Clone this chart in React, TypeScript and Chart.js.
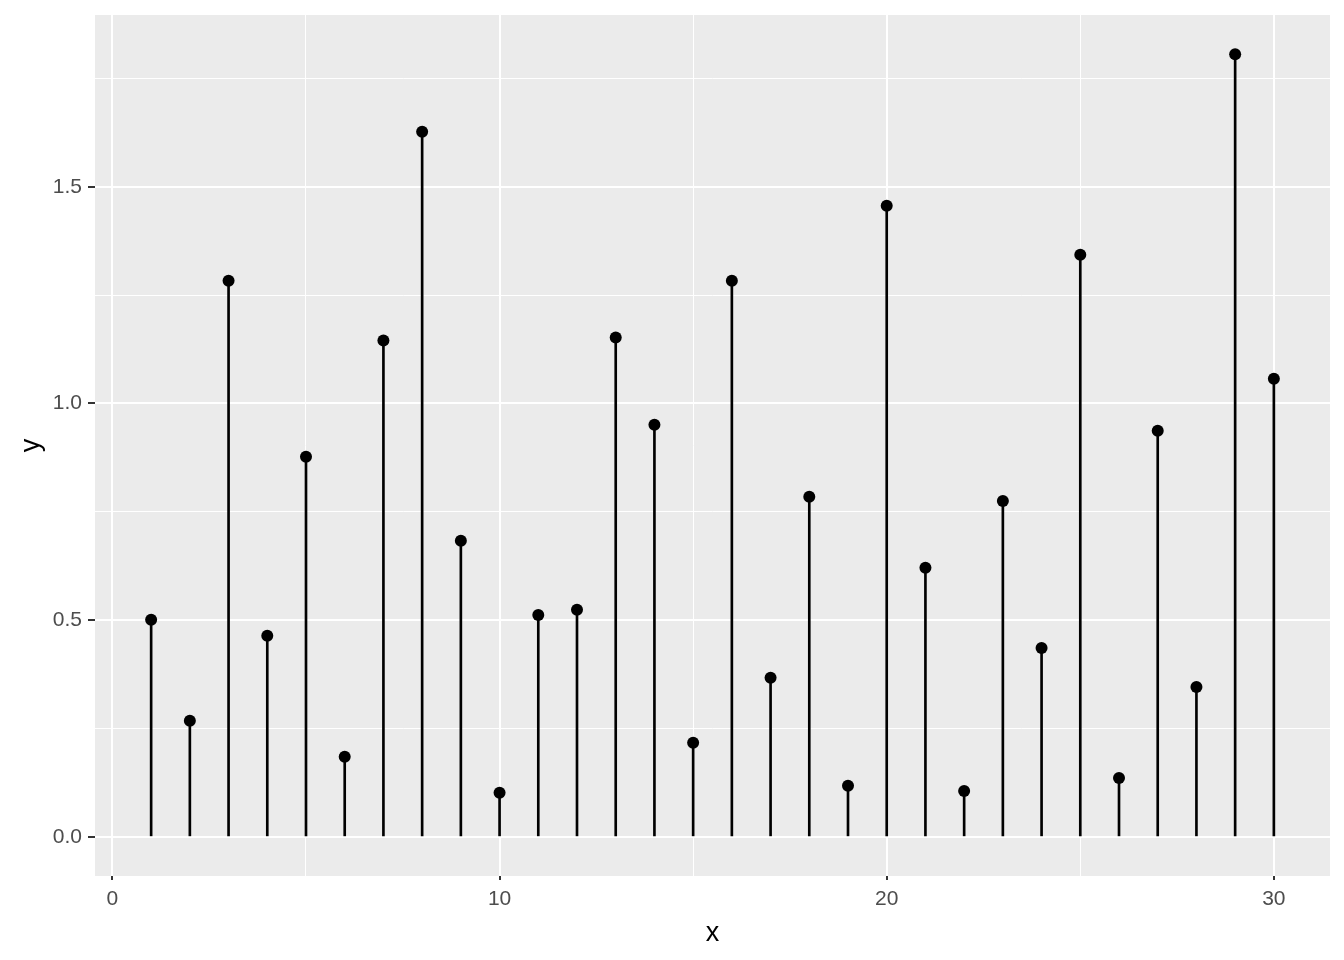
import React, { useEffect, useRef } from "react";
import { Chart, registerables } from "chart.js";

Chart.register(...registerables);

const xs: number[] = [1,2,3,4,5,6,7,8,9,10,11,12,13,14,15,16,17,18,19,20,21,22,23,24,25,26,27,28,29,30];
const ys: number[] = [0.501,0.268,1.283,0.464,0.877,0.185,1.145,1.627,0.683,0.102,0.512,0.524,1.152,0.951,0.217,1.283,0.367,0.785,0.118,1.456,0.621,0.106,0.775,0.436,1.343,0.136,0.937,0.346,1.806,1.057];
const xMajorTicks: number[] = [0, 10, 20, 30];
const yMajorTicks: number[] = [0, 0.5, 1, 1.5];

const isMajor = (v: number, majors: number[]) => majors.some((m) => Math.abs(m - v) < 1e-6);

const bgPlugin = {
  id: "panelBg",
  beforeDraw(chart: any) {
    const { ctx, chartArea } = chart;
    ctx.save();
    ctx.fillStyle = "#EBEBEB";
    ctx.fillRect(chartArea.left, chartArea.top, chartArea.right - chartArea.left, chartArea.bottom - chartArea.top);
    ctx.restore();
  },
};

export default function App() {
  const ref = useRef<HTMLCanvasElement | null>(null);
  useEffect(() => {
    if (!ref.current) return;
    const pts = xs.map((x, i) => ({ x, y: ys[i] }));
    const xMin = 1 - 0.05 * 29;
    const xMax = 30 + 0.05 * 29;
    const yMax = Math.max(...ys);
    const yMin = 0 - 0.05 * yMax;
    const yTop = yMax + 0.05 * yMax;
    const font = "Liberation Sans, Arial, Helvetica, sans-serif";
    const chart = new Chart(ref.current, {
      type: "scatter",
      data: {
        datasets: [
          {
            type: "bar" as any,
            data: pts,
            backgroundColor: "#000000",
            borderWidth: 0,
            barThickness: 2,
            order: 2,
          } as any,
          {
            type: "scatter",
            data: pts,
            backgroundColor: "#000000",
            borderColor: "#000000",
            pointRadius: 6,
            borderWidth: 0,
            order: 1,
          },
        ],
      },
      plugins: [bgPlugin],
      options: {
        responsive: false,
        animation: false,
        layout: { padding: { left: 0, top: 15, right: 14, bottom: 0 } },
        plugins: { legend: { display: false }, tooltip: { enabled: false } },
        scales: {
          x: {
            type: "linear",
            min: xMin,
            max: xMax,
            offset: false,
            border: { display: false },
            grid: {
              offset: false,
              color: "#FFFFFF",
              lineWidth: (c: any) => (isMajor(c.tick?.value, xMajorTicks) ? 2 : 1),
              tickColor: (c: any) => (isMajor(c.tick?.value, xMajorTicks) ? "#333333" : "rgba(0,0,0,0)"),
              tickWidth: 2,
              tickLength: 4,
              drawTicks: true,
            },
            ticks: {
              stepSize: 5,
              includeBounds: false,
              autoSkip: false,
              maxRotation: 0,
              padding: 7,
              color: "#4D4D4D",
              font: { family: font, size: 21 },
              callback: (v: any) => (isMajor(Number(v), xMajorTicks) ? String(v) : ""),
            },
            title: {
              display: true,
              text: "x",
              color: "#000000",
              font: { family: font, size: 27 },
              padding: { top: 2, bottom: 10 },
            },
            afterFit: (s: any) => {
              s.height = 84;
              s.paddingLeft = 0;
              s.paddingRight = 0;
            },
          },
          y: {
            type: "linear",
            min: yMin,
            max: yTop,
            border: { display: false },
            grid: {
              color: "#FFFFFF",
              lineWidth: (c: any) => (isMajor(c.tick?.value, yMajorTicks) ? 2 : 1),
              tickColor: (c: any) => (isMajor(c.tick?.value, yMajorTicks) ? "#333333" : "rgba(0,0,0,0)"),
              tickWidth: 2,
              tickLength: 7,
            },
            ticks: {
              stepSize: 0.25,
              includeBounds: false,
              autoSkip: false,
              padding: 6,
              color: "#4D4D4D",
              font: { family: font, size: 21 },
              callback: (v: any) => (isMajor(Number(v), yMajorTicks) ? Number(v).toFixed(1) : ""),
            },
            title: {
              display: true,
              text: "y",
              color: "#000000",
              font: { family: font, size: 27 },
              padding: { top: 15, bottom: 0 },
            },
            afterFit: (s: any) => {
              s.width = 95;
              s.paddingTop = 0;
              s.paddingBottom = 0;
            },
          },
        },
      } as any,
    });
    return () => chart.destroy();
  }, []);
  return (
    <div style={{ position: "fixed", left: 0, top: 0, width: 1344, height: 960, background: "#FFFFFF" }}>
      <canvas ref={ref} width={1344} height={960} style={{ width: 1344, height: 960 }} />
    </div>
  );
}
